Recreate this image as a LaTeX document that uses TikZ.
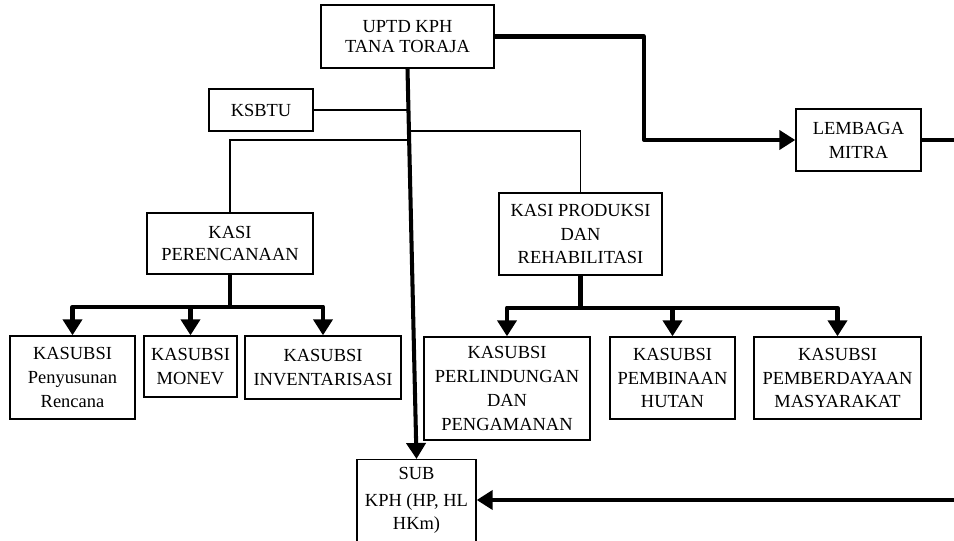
\documentclass[tikz,border=0pt]{standalone}
\usepackage{fontspec}
\setmainfont{Liberation Serif}
\usetikzlibrary{arrows.meta}

\tikzset{
    box/.style={draw, line width=0.8pt, align=center, inner xsep=1pt, inner ysep=2pt,
        font=\fontsize{10.5}{13.6}\selectfont},
    thinLine/.style={line width=0.75pt},
    thickLine/.style={line width=2.3pt, line join=round},
    arrowLine/.style={thickLine, -{Triangle[length=0.32cm,width=0.38cm]}}
}

\begin{document}
\begin{tikzpicture}[x=0.02cm, y=-0.02cm]
    %\draw[help lines] (0,0) grid (954,541);
    \useasboundingbox (0,0) rectangle (954,541);
    \node[box, minimum width=3.46cm, minimum height=1.26cm] (uptd) at (407.5,36.5) {UPTD KPH\\[-2pt]TANA TORAJA};
    \node[box, minimum width=2.08cm, minimum height=0.84cm] (ksbtu) at (261,110) {KSBTU};
    \node[box, minimum width=2.5cm, minimum height=1.24cm] (lembaga) at (858.5,140) {LEMBAGA\\MITRA};
    \node[box, minimum width=3.32cm, minimum height=1.22cm] (perenc) at (230,243.5) {KASI\\[-1.5pt]PERENCANAAN};
    \node[box, minimum width=3.26cm, minimum height=1.64cm] (produksi) at (580.5,234) {KASI PRODUKSI\\DAN\\REHABILITASI};
    % sous-sections
    \node[box, minimum width=2.5cm, minimum height=1.66cm] (kasub1) at (72.5,377.5) {KASUBSI\\Penyusunan\\Rencana};
    \node[box, minimum width=1.86cm, minimum height=1.22cm] (kasub2) at (190.5,366.5) {KASUBSI\\MONEV};
    \node[box, minimum width=3.12cm, minimum height=1.26cm] (kasub3) at (323,367.5) {KASUBSI\\INVENTARISASI};
    \node[box, minimum width=3.32cm, minimum height=2.06cm] (kasub4) at (507,388.5) {KASUBSI\\PERLINDUNGAN\\DAN\\PENGAMANAN};
    \node[box, minimum width=2.5cm, minimum height=1.64cm] (kasub5) at (672.5,378) {KASUBSI\\PEMBINAAN\\HUTAN};
    \node[box, minimum width=3.34cm, minimum height=1.64cm] (kasub6) at (837.5,378) {KASUBSI\\PEMBERDAYAAN\\MASYARAKAT};
    \node[box, minimum width=2.38cm, minimum height=2.2cm, anchor=north] (sub) at (416.5,459) {};
    \node[align=center, inner sep=0pt, anchor=north, font=\fontsize{10.5}{13.6}\selectfont]
        (subText) at ([yshift=-0.16cm]sub.north) {SUB\\[2pt]KPH (HP, HL\\[-1pt]HKm)};

    \coordinate (leftJoin) at (408,140);
    \coordinate (rightJoin) at (408,131);
    \coordinate (bend) at (644,0);
    \coordinate (farRight) at (980,500);

    \draw[thinLine] (ksbtu.east) -- (ksbtu.east -| uptd.south);
    \draw[thinLine] (leftJoin) -| (perenc.north);
    \draw[thinLine] (rightJoin) -| (produksi.north);
    \draw[arrowLine] (uptd.south) -- (sub.north);
    \draw[arrowLine] (uptd.east) -- (uptd.east -| bend) |- (lembaga.west);
    \draw[arrowLine] (lembaga.east) -| (farRight) -- (farRight -| sub.east);

    \draw[thickLine] (perenc.south) -- ++(0,32) coordinate (pBus);
    \foreach \k in {1,2,3}
        \draw[arrowLine] (pBus) -| (kasub\k.north);
    \draw[thickLine, line width=3.2pt] (produksi.south) -- ++(0,32) coordinate (rBus);
    \foreach \k in {4,5,6}
        \draw[arrowLine] (rBus) -| (kasub\k.north);
\end{tikzpicture}
\end{document}
